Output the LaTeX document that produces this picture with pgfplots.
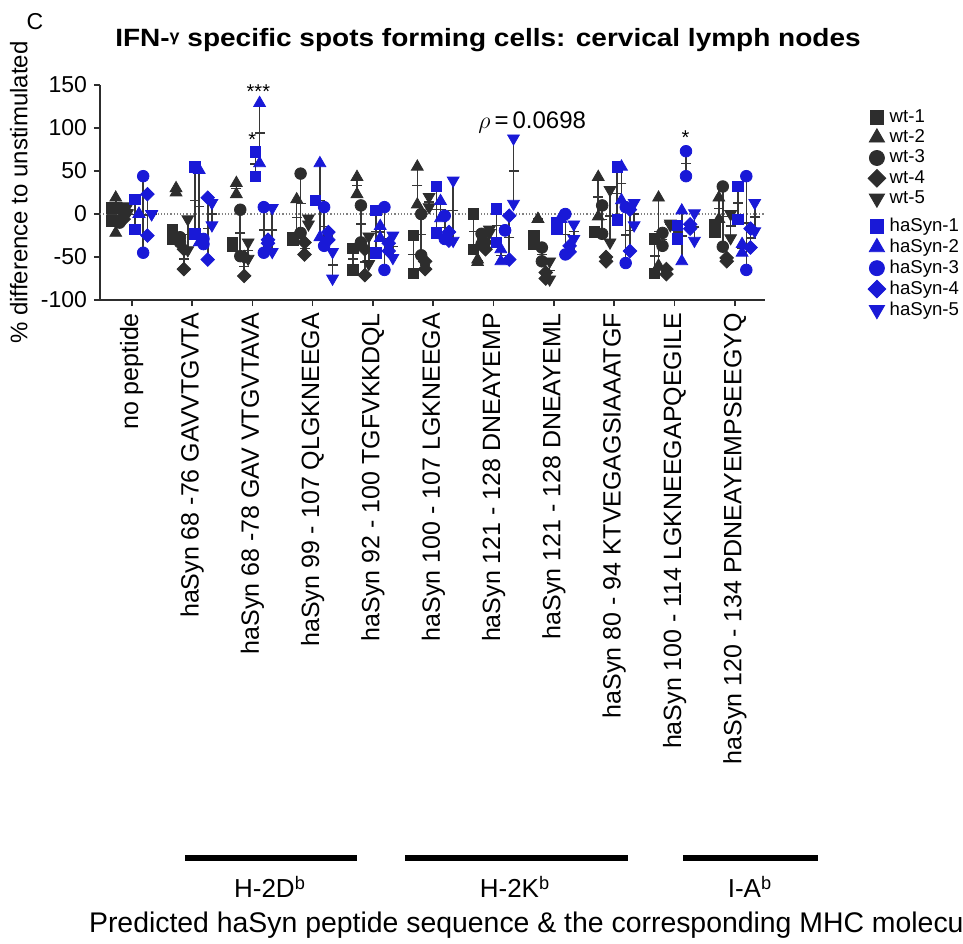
\documentclass[border=0pt]{standalone}
\usepackage{pgfplots}
\pgfplotsset{compat=1.18}
\usepackage{pgfplotstable}
\usepackage{fontspec}
\setmainfont{Liberation Sans}
\definecolor{dk}{RGB}{45,45,45}
\definecolor{bl}{RGB}{25,25,215}
\definecolor{ln}{RGB}{55,55,55}

\pgfplotstableread{
c a b
0 7 -8
1 -18 -29
2 -37 -33
3 -28 -30
4 -40 -65
5 -25 -69
6 0 -41
7 -35 -25
8 -21 -20
9 -29 -69
10 -21 -12
}\wtA
\pgfplotstableread{
c a b
0 19 -22
1 25 30
2 23 36
3 17 -25
4 43 23
5 55 11
6 -56 -53
7 -6 -6
8 43 -3
9 19 -60
10 19 -6
}\wtB
\pgfplotstableread{
c a b
0 7 -10
1 -27 -33
2 5 -49
3 47 -22
4 10 -33
5 0 -48
6 -23 -35
7 -39 -55
8 10 -23
9 -22 -37
10 32 -38
}\wtC
\pgfplotstableread{
c a b
0 -2 -6
1 -41 -64
2 -50 -72
3 -33 -47
4 -41 -71
5 -64 -55
6 -41 -33
7 -68 -75
8 -55 -50
9 -70 -64
10 -55 -51
}\wtD
\pgfplotstableread{
c a b
0 9 1
1 -6 -42
2 -33 -52
3 -12 -5
4 -26 -58
5 8 20
6 -18 -22
7 -76 -55
8 28 -33
9 -11 -13
10 0 -28
}\wtE
\pgfplotstableread{
c a b
0 17 -18
1 55 -23
2 72 44
3 16 16
4 4 -45
5 32 -22
6 6 -33
7 -18 -10
8 55 -7
9 -13 -29
10 32 -6
}\haA
\pgfplotstableread{
c a b
0 0 0
1 51 -33
2 129 59
3 59 -27
4 -28 -14
5 15 -5
6 -55 -41
7 -6 -3
8 55 16
9 4 -55
10 -45 -35
}\haB
\pgfplotstableread{
c a b
0 44 -45
1 -35 -29
2 8 -45
3 8 -37
4 8 -65
5 -2 -29
6 -19 -19
7 0 -47
8 8 -57
9 73 44
10 44 -65
}\haC
\pgfplotstableread{
c a b
0 23 -25
1 19 -53
2 -34 -30
3 -30 -21
4 -43 -34
5 -31 -21
6 -2 -53
7 -44 -37
8 5 -43
9 -17 -12
10 -17 -39
}\haD
\pgfplotstableread{
c a b
0 0 0
1 13 -13
2 7 -44
3 -44 -75
4 -25 -51
5 39 -31
6 88 12
7 -12 -29
8 13 -13
9 1 -31
10 13 -20
}\haE

\newcommand{\rng}[2]{\addplot[forget plot, only marks, mark=-, mark size=2.5pt, ln, mark options={line width=0.7pt}, error bars/.cd, y dir=both, y explicit, error mark=none, error bar style={line width=0.8pt, ln}] table[x expr=\thisrow{c}#2, y expr=0.5*(\thisrow{a}+\thisrow{b}), y error expr=0.5*abs(\thisrow{a}-\thisrow{b})] {#1};}
\newcommand{\pts}[3]{\addplot[only marks, #3] table[x expr=\thisrow{c}#2, y=a] {#1};
\addplot[forget plot, only marks, #3] table[x expr=\thisrow{c}#2, y=b] {#1};}

\pgfplotsset{
 msq/.style={mark=square*, mark size=2.6pt},
 mtri/.style={mark=triangle*, mark size=3.4pt},
 mcir/.style={mark=*, mark size=2.9pt},
 mdia/.style={mark=square*, mark size=2.4pt, mark options={rotate=45}},
 mitri/.style={mark=triangle*, mark size=3.4pt, mark options={rotate=180}},
}

\begin{document}
\begin{tikzpicture}[x=0.5pt,y=-0.5pt]
\useasboundingbox (0,0) rectangle (963,943);
\begin{axis}[
 at={(50pt,-150pt)}, anchor=south west, scale only axis,
 width=332.5pt, height=107.5pt,
 xmin=-0.526, xmax=10.5, ymin=-100, ymax=150,
 axis x line*=bottom, axis y line*=left,
 axis line style={line width=0.9pt, dk},
 tick align=outside, major tick length=3pt,
 tick style={line width=0.8pt, dk},
 xtick={0,...,10}, ytick={-100,-50,0,50,100,150},
 xticklabels={no peptide, haSyn 68 -76 GAVVTGVTA, haSyn 68 -78 GAV VTGVTAVA, haSyn 99 - 107 QLGKNEEGA, haSyn 92 - 100 TGFVKKDQL, haSyn 100 - 107 LGKNEEGA, haSyn 121 - 128 DNEAYEMP, haSyn 121 - 128 DNEAYEML, haSyn 80 - 94  KTVEGAGSIAAATGF, haSyn 100 - 114 LGKNEEGAPQEGILE, haSyn 120 - 134 PDNEAYEMPSEEGYQ},
 xticklabel style={rotate=90, anchor=east, font=\fontsize{12.5}{12.5}\selectfont},
 yticklabel style={font=\fontsize{11.5}{11.5}\selectfont},
 /pgf/number format/assume math mode=true,
 ylabel={\% difference to unstimulated},
 ylabel style={font=\fontsize{12}{12}\selectfont, at={(axis description cs:-0.122,0.5)}, anchor=center},
 clip=false,
 legend style={draw=none, fill=none, at={(1.142,0.907)}, anchor=north west, font=\fontsize{9.3}{9.3}\selectfont, row sep=-1.8pt, inner sep=0pt},
 legend cell align=left,
 legend image post style={/tikz/every mark/.append style={scale=1.3}},
]
\addplot[forget plot, densely dotted, gray, line width=0.6pt] coordinates {(-0.526,0) (10.5,0)};
\rng{\wtA}{-0.33}
\rng{\wtB}{-0.265}
\rng{\wtC}{-0.2}
\rng{\wtD}{-0.135}
\rng{\wtE}{-0.07}
\rng{\haA}{+0.05}
\rng{\haB}{+0.12}
\rng{\haC}{+0.19}
\rng{\haD}{+0.26}
\rng{\haE}{+0.33}
\pts{\wtA}{-0.33}{dk, msq}\addlegendentry{wt-1}
\pts{\wtB}{-0.265}{dk, mtri}\addlegendentry{wt-2}
\pts{\wtC}{-0.2}{dk, mcir}\addlegendentry{wt-3}
\pts{\wtD}{-0.135}{dk, mdia}\addlegendentry{wt-4}
\pts{\wtE}{-0.07}{dk, mitri}\addlegendentry{wt-5}
\addlegendimage{empty legend}\addlegendentry{}
\pts{\haA}{+0.05}{bl, msq}\addlegendentry{haSyn-1}
\pts{\haB}{+0.12}{bl, mtri}\addlegendentry{haSyn-2}
\pts{\haC}{+0.19}{bl, mcir}\addlegendentry{haSyn-3}
\pts{\haD}{+0.26}{bl, mdia}\addlegendentry{haSyn-4}
\pts{\haE}{+0.33}{bl, mitri}\addlegendentry{haSyn-5}
\node[font=\fontsize{10}{10}\selectfont] at (axis cs:2.1,142) {***};
\node[font=\fontsize{10}{10}\selectfont] at (axis cs:2.0,86) {*};
\node[font=\fontsize{10}{10}\selectfont] at (axis cs:9.18,89) {*};
\node[font=\fontsize{12}{12}\selectfont] at (axis cs:6.64,106) {$\rho$\,=\,0.0698};
\end{axis}
\node[font=\fontsize{11.5}{11.5}\selectfont] at (35,22) {C};
\node[font=\bfseries\fontsize{12.5}{13}\selectfont] at (488,40) {\scalebox{1.12}[1]{IFN-\raisebox{0.35ex}{\fontsize{8}{8}\selectfont γ} specific spots forming cells: cervical lymph nodes}};
\draw[line width=3pt] (185,858) -- (357,858);
\draw[line width=3pt] (405,858) -- (628,858);
\draw[line width=3pt] (683,858) -- (818,858);
\node[font=\fontsize{13}{13}\selectfont] at (270,887) {H-2D\textsuperscript{b}};
\node[font=\fontsize{13}{13}\selectfont] at (515,887) {H-2K\textsuperscript{b}};
\node[font=\fontsize{13}{13}\selectfont] at (750,887) {I-A\textsuperscript{b}};
\node[font=\fontsize{14.2}{14.2}\selectfont, anchor=west] at (82,925) {Predicted haSyn peptide sequence \& the corresponding MHC molecule};
\end{tikzpicture}
\end{document}
